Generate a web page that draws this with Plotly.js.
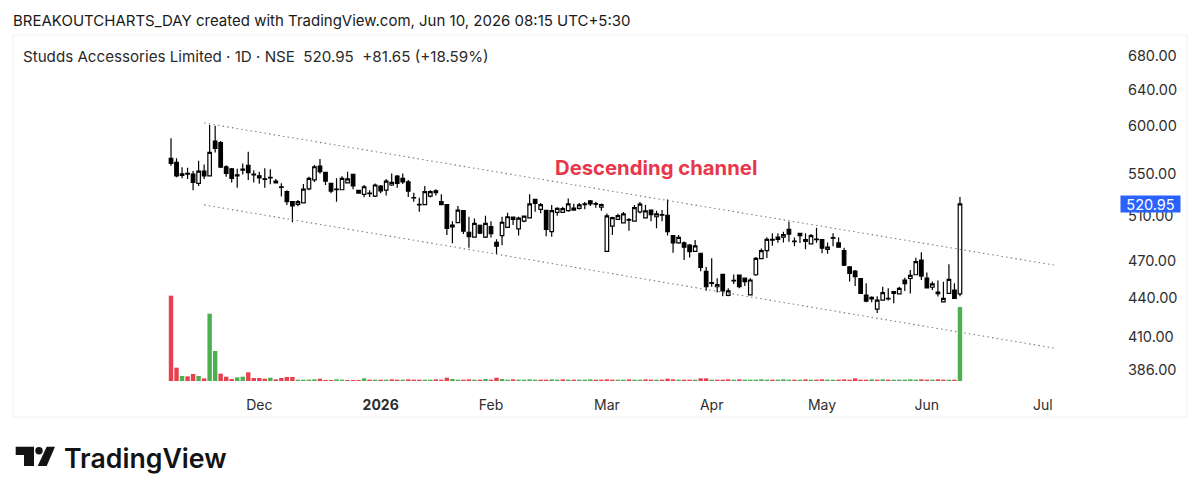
<!DOCTYPE html>
<html>
<head>
<meta charset="utf-8">
<script src="https://cdn.plot.ly/plotly-3.0.1.min.js"></script>
<style>html,body{margin:0;padding:0;background:#fff}#chart{width:1200px;height:497px}</style>
</head>
<body>
<div id="chart"></div>
<script>
const sessions = [
'2025-11-07','2025-11-10','2025-11-11','2025-11-12','2025-11-13','2025-11-14','2025-11-17','2025-11-18','2025-11-19','2025-11-20','2025-11-21','2025-11-24','2025-11-25','2025-11-26','2025-11-27','2025-11-28',
'2025-12-01','2025-12-02','2025-12-03','2025-12-04','2025-12-05','2025-12-08','2025-12-09','2025-12-10','2025-12-11','2025-12-12','2025-12-15','2025-12-16','2025-12-17','2025-12-18','2025-12-19','2025-12-22','2025-12-23','2025-12-24','2025-12-26','2025-12-29','2025-12-30','2025-12-31',
'2026-01-01','2026-01-02','2026-01-05','2026-01-06','2026-01-07','2026-01-08','2026-01-09','2026-01-12','2026-01-13','2026-01-14','2026-01-16','2026-01-19','2026-01-20','2026-01-21','2026-01-22','2026-01-23','2026-01-27','2026-01-28','2026-01-29','2026-01-30',
'2026-02-01','2026-02-02','2026-02-03','2026-02-04','2026-02-05','2026-02-06','2026-02-09','2026-02-10','2026-02-11','2026-02-12','2026-02-13','2026-02-16','2026-02-17','2026-02-18','2026-02-19','2026-02-20','2026-02-23','2026-02-24','2026-02-25','2026-02-26','2026-02-27',
'2026-03-02','2026-03-04','2026-03-05','2026-03-06','2026-03-09','2026-03-10','2026-03-11','2026-03-12','2026-03-13','2026-03-16','2026-03-17','2026-03-18','2026-03-19','2026-03-20','2026-03-23','2026-03-24','2026-03-25','2026-03-27','2026-03-30',
'2026-04-01','2026-04-02','2026-04-06','2026-04-07','2026-04-08','2026-04-09','2026-04-10','2026-04-13','2026-04-15','2026-04-16','2026-04-17','2026-04-20','2026-04-21','2026-04-22','2026-04-23','2026-04-24','2026-04-27','2026-04-28','2026-04-29','2026-04-30',
'2026-05-04','2026-05-05','2026-05-06','2026-05-07','2026-05-08','2026-05-11','2026-05-12','2026-05-13','2026-05-14','2026-05-15','2026-05-18','2026-05-19','2026-05-20','2026-05-21','2026-05-22','2026-05-25','2026-05-26','2026-05-27','2026-05-29',
'2026-06-01','2026-06-02','2026-06-03','2026-06-04','2026-06-05','2026-06-08','2026-06-09'];
const futureSessions = ['2026-06-10','2026-06-11','2026-06-12','2026-06-15','2026-06-16','2026-06-17','2026-06-18','2026-06-19','2026-06-22','2026-06-23','2026-06-24','2026-06-25','2026-06-29','2026-06-30','2026-07-01','2026-07-02','2026-07-03'];

const openPrices = [
565.5,561.4,548.5,550.4,549.7,540.5,552.7,548,583.4,581.7,
557,555,549,554.7,558.5,549.7,548,545,546.5,542.8,
537.3,532.5,523,520.5,522,535.3,544,557.7,551.4,540.5,
535,534.4,541,549.4,533.8,530,531.2,528.3,538,534,
539,547.7,545.5,542,527,520.5,520.2,528.3,533.4,523,
520.2,499.7,503.6,514.6,495,490.7,501.3,490.7,500,486,
492,499.4,508.8,498,505,508,525.2,515.8,514.9,495.5,
513,513,514.6,515.2,516.8,521,523.7,521.3,518,478.3,
500.5,506.6,503.5,506.4,505,513.5,508,515.2,509,511,
510.4,492,485.6,485.6,483.6,478.2,476.6,461.3,452,448.7,
458.8,441.7,454,458.2,455.7,442.2,458.5,472,478.8,488.7,
488.7,490.7,497.6,487.2,494,488.4,484.8,489,488.4,480,
490.3,485.6,479,465,461.5,455.3,442,440.2,431,438,
439.5,444.7,443,454.1,455.4,458.5,470.8,455.8,448.3,444.4,
436.6,443.3,446,443];
const highPrices = [
586.3,565.5,556.4,556,552.7,563,559.4,600.5,599.7,583.4,
558.5,555.8,555,560.4,572.2,553.4,552,555.5,554.4,544.8,
540.8,534,523,524.6,540,547,558.7,564.8,552,540.5,
545.5,547.5,552,549.4,533.8,539,534,540.5,539,544.8,
550.4,548.7,550.4,543.8,531.5,526.8,538,534,534.8,530,
520.2,505,519,515.2,509,507.5,502,509.9,505,488.7,
509,512.7,509,509,509.9,530,525.5,521.8,514.9,520,
517.7,518.3,526,521,521.8,522.7,524.6,523,521.3,512,
509,511.7,513.5,507.8,519.9,522.7,519.9,515.2,514.5,515.2,
525,492,492.5,486.8,484.6,488.1,477,465,472.3,455.6,
458.8,447.4,458.8,458.5,456.3,455.7,473.5,480.8,490.5,494,
494,495.5,504.5,490.3,494,494,493.4,499,489,486,
494,490.3,481.3,465.8,462.4,455.6,451.5,441,441,448.7,
447.4,445.3,448.7,456,462.4,472.7,477.4,460.3,453,453.7,
452.7,467.2,451.5,527.4];
const lowPrices = [
558,546.5,545.5,544.8,534,538,544.8,547.5,571.6,555.8,
547,541.5,536.3,549.4,543.8,541.5,540.2,536.3,539.6,540.8,
528,519.9,504,518.7,521.5,534,542,550,539,531,
523,533.8,540.5,535,530.6,527.2,527.4,527.4,531,529,
538,536.3,540,527.4,523,513.6,520,527,529,520,
492.5,485.3,503,493.4,481.4,490.3,493.4,490,490.3,476,
483.5,499,501.5,492,504,507.7,513.6,512.2,491.5,491,
510,512.4,513.6,514.6,515.7,516,519,517.3,514.5,478,
492.5,506.2,503.2,496.3,504.6,512,507.6,505,498.5,505,
492,477,484.8,470.8,473,478,461.5,445.4,448.7,444,
441,441,451,447.4,449.3,442,457.4,471.7,472.5,483,
485.7,486,486.6,482.6,485.6,480,484.5,485.7,476.6,476.2,
482.6,481.3,465.8,453,449.3,442.8,436.3,436.3,428,437.8,
437.8,435.6,442.8,445.3,443.3,458,454.2,447.4,446,440.8,
436.3,442.8,439,441];
const closePrices = [
560.4,548,550,549.7,541.5,552.7,548,571.6,575.8,556.7,
550.4,545.5,548,553.7,551,549,546,544.5,546,541,
536.6,523,519,523,535,545.5,557,552,542.8,533.1,
534.4,545.5,545,538,531.2,537.3,530.6,539,533.4,542.8,
541.5,540.5,542,533.1,526.5,520,532.5,532.5,531.5,520.2,
498.5,501.5,515.2,496,491,503,494.3,503,493.7,482.7,
504,509,506.6,507.7,509.6,521,521.4,520.2,497.6,514.6,
516.8,516.5,521,517,520,520.2,521,520.7,520.4,509.9,
508.3,510,511.6,505.8,517.4,520.7,514.5,511,511.6,510.6,
495.6,485.6,490.5,481.8,478,483,464.6,448.7,451.5,450.5,
445.4,445.3,453.4,448.7,452.8,454.2,472.3,478.8,488.7,488.1,
490.7,493,493.4,486.6,492,487,492,488.4,481,482,
489.7,481.8,466.5,459.7,457,443.3,437.3,439,438,444,
439,443.3,447.4,451.2,458,469.4,457.4,447.7,451,443.2,
439.4,454.7,439.3,520.95];
const volumes = [
256,40,15,14,21,15,8,202,90,22,13,6,11,13,26,9,9,7,10,5,9,12,12,4,4,4,5,7,3,3,5,4,3,3,3,8,
4,4,4,4,5,4,4,5,4,4,4,4,5,4,
10,6,4,4,5,4,4,6,4,10,6,
4,5,4,4,5,4,4,4,5,4,5,4,4,4,4,5,4,4,5,4,4,4,5,4,4,5,4,4,4,
7,5,4,4,4,4,8,8,
4,4,4,5,4,5,4,4,4,5,4,4,4,5,4,4,4,5,4,4,5,4,4,4,5,4,
8,4,4,5,4,5,4,4,4,4,5,4,5,4,4,5,4,4,4,222];

const priceTicks = [680,640,600,550,510,470,440,410,386];
const priceTickText = ['680.00','640.00','600.00','550.00','510.00','470.00','440.00','410.00','386.00'];
const monthTicks = ['2025-12-01','2026-01-01','2026-02-01','2026-03-02','2026-04-01','2026-05-04','2026-06-01','2026-07-01'];
const monthText = ['Dec','<b>2026</b>','Feb','Mar','Apr','May','Jun','Jul'];
const channelDates = ['2025-11-17','2026-07-03'];
const channelUpper = [602.7,466.6];
const channelLower = [520,401.8];
const lastPrice = 520.95;

const L=13, R=1115, T=36, B=390;
const px = x => (x-L)/(R-L);
const py = y => (B-y)/(B-T);
const P = (x,y) => px(x).toFixed(5)+','+py(y).toFixed(5);
const FONT = 'Inter, "Noto Sans", sans-serif';
const volColor = closePrices.map((c,i) => (i>0 && c>=closePrices[i-1]) ? '#4CAF50' : '#E8404F');

const traces = [
 {type:'scatter',mode:'lines',x:channelDates,y:channelUpper,line:{color:'#787b86',width:1.1,dash:'1.5px,3.2px'},hoverinfo:'skip',yaxis:'y',xaxis:'x'},
 {type:'scatter',mode:'lines',x:channelDates,y:channelLower,line:{color:'#787b86',width:1.1,dash:'1.5px,3.2px'},hoverinfo:'skip',yaxis:'y',xaxis:'x'},
 {type:'candlestick',x:sessions,open:openPrices,high:highPrices,low:lowPrices,close:closePrices,
  increasing:{line:{color:'#000',width:1.2},fillcolor:'#fff'},
  decreasing:{line:{color:'#000',width:1.2},fillcolor:'#000'},
  xaxis:'x',yaxis:'y'},
 {type:'bar',x:sessions,y:volumes,marker:{color:volColor,line:{width:0}},xaxis:'x',yaxis:'y2'}
];

const ann = (text,x,y,size,color,extra) => Object.assign({text,xref:'paper',yref:'paper',x:px(x),y:py(y),xanchor:'left',yanchor:'middle',showarrow:false,font:{family:FONT,size,color}},extra||{});

const layout = {
 width:1200,height:497,paper_bgcolor:'#fff',plot_bgcolor:'rgba(0,0,0,0)',showlegend:false,
 margin:{l:L,r:1200-R,t:T,b:497-B,pad:0},
 boxgap:0.08,bargap:0.2,
 font:{family:FONT},
 xaxis:{type:'category',categoryorder:'array',categoryarray:sessions.concat(futureSessions),
   range:[-28.64,171.1],autorange:false,rangeslider:{visible:false},showgrid:false,zeroline:false,showline:false,
   tickmode:'array',tickvals:monthTicks,ticktext:monthText,tickangle:0,ticks:'outside',ticklen:2,tickcolor:'rgba(0,0,0,0)',
   tickfont:{family:FONT,size:14,color:'#2e2e2e'}},
 yaxis:{type:'log',range:[2.57115,Math.log10(705)],autorange:false,side:'right',showgrid:false,zeroline:false,showline:false,
   tickmode:'array',tickvals:priceTicks,ticktext:priceTickText,ticks:'outside',ticklen:9,tickcolor:'rgba(0,0,0,0)',
   tickfont:{family:FONT,size:14.5,color:'#2e2e2e'}},
 yaxis2:{domain:[0.02542,0.3559],range:[0,351],autorange:false,visible:false,anchor:'x',fixedrange:true},
 shapes:[
  {type:'rect',xref:'paper',yref:'paper',x0:px(13),x1:px(1187),y0:py(417),y1:py(35),line:{color:'#f0f3fa',width:1},fillcolor:'rgba(0,0,0,0)',layer:'below'},
  {type:'path',xref:'paper',yref:'paper',path:'M'+P(15.7,446.7)+' L'+P(34,446.7)+' L'+P(34,466)+' L'+P(24,466)+' L'+P(24,455)+' L'+P(15.7,455)+' Z',fillcolor:'#131313',line:{width:0}},
  {type:'circle',xref:'paper',yref:'paper',x0:px(35.3),x1:px(42.7),y0:py(454.4),y1:py(447),fillcolor:'#131313',line:{width:0}},
  {type:'path',xref:'paper',yref:'paper',path:'M'+P(46.7,446.7)+' L'+P(55,446.7)+' L'+P(46.7,466)+' L'+P(37.7,466)+' Z',fillcolor:'#131313',line:{width:0}}
 ],
 annotations:[
  ann('BREAKOUTCHARTS_DAY created with TradingView.com, Jun 10, 2026 08:15 UTC+5:30',11,21,15,'#1a1a1a'),
  ann('Studds Accessories Limited · 1D · NSE  520.95  +81.65 (+18.59%)',21,57,15.15,'#2a2a2a'),
  ann('Descending channel',553,167,20.3,'#E8364A',{font:{family:FONT,size:20.3,color:'#E8364A',weight:700}}),
  ann('TradingView',62,458,26.7,'#131313',{font:{family:FONT,size:26.7,color:'#131313',weight:600}}),
  {text:lastPrice.toFixed(2),xref:'paper',yref:'y',x:px(1150),y:Math.log10(lastPrice),xanchor:'center',yanchor:'middle',showarrow:false,
   bgcolor:'#2962FF',width:59,height:16,borderpad:0,font:{family:FONT,size:14.5,color:'#fff'}}
 ]
};

Plotly.newPlot('chart',traces,layout,{staticPlot:true,displayModeBar:false});
</script>
</body>
</html>
